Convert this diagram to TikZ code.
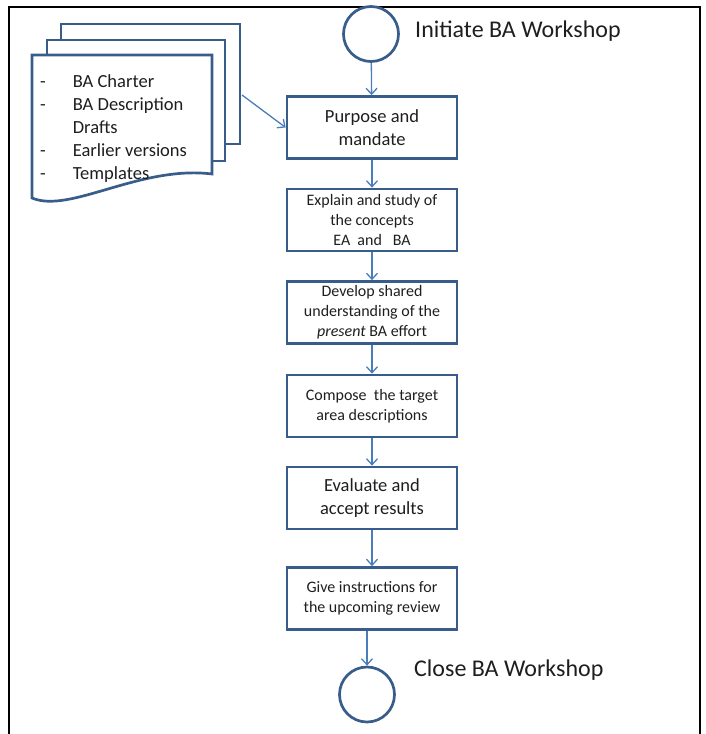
\documentclass[tikz,border=0pt]{standalone}
\usepackage{fontspec}
\setmainfont{Carlito}
\usepackage{xcolor}
\usetikzlibrary{arrows.meta}
\definecolor{shapeblue}{RGB}{56,93,138}
\definecolor{flowblue}{RGB}{74,126,187}
\definecolor{inktext}{RGB}{30,30,30}
\tikzset{x=1pt,y=-1pt,
 every node/.style={text=inktext},
 stepbox/.style={draw=shapeblue,line width=2.7pt,minimum width=170pt,
  minimum height=62pt,inner sep=0pt,align=center},
 bigtxt/.style={font=\fontsize{18.5}{23}\selectfont},
 smalltxt/.style={font=\fontsize{16}{20}\selectfont},
 terminal/.style={circle,draw=shapeblue,line width=2.7pt,minimum size=55pt,inner sep=0pt},
 sheet/.style={draw=shapeblue,line width=2.7pt,line join=miter},
 flow/.style={draw=flowblue,line width=1.3pt,-{Straight Barb[length=6pt,width=11pt]}},
 label/.style={font=\fontsize{24}{28}\selectfont,anchor=base west,inner sep=0pt},
 frame/.style={draw=black,line width=2.6pt},
 }

\begin{document}
\begin{tikzpicture}
        \useasboundingbox (0,0) rectangle (705,734);
        \draw[frame] (9,734) -- (9,7) -- (700,7) -- (700,734);
        % input documents
        \draw[sheet] (225,144) -- (240,144) -- (240,24) -- (61,24) -- (61,40);
        \draw[sheet] (212,161) -- (225,161) -- (225,40) -- (47,40) -- (47,55);
        \draw[sheet] (32,55) -- (212,55) -- (212,174)
            .. controls (140,165) and (70,214) .. (32,198) -- cycle;
        \node[anchor=base west,inner sep=0pt,font=\fontsize{18.5}{23}\selectfont] (doclist) at (40,87)
            {\begin{tabular}[t]{@{}l@{\hspace{27pt}}l@{}}
             - & BA Charter\\
             - & BA Description\\
               & Drafts\\
             - & Earlier versions\\
             - & Templates
             \end{tabular}};
        \coordinate (docout) at (242,95);
        % workflow
        \node[terminal] (start) at (371,34) {};
        \node[label] (initlbl) at (415,37.5) {Initiate BA Workshop};
        \node[stepbox,bigtxt] (p1) at (372,127.5) {Purpose and\\mandate};
        \node[stepbox,smalltxt] (p2) at (372,220) {Explain and study of\\the concepts\\EA\ \ and\ \ \ BA};
        \node[stepbox,smalltxt] (p3) at (372,312.5) {Develop shared\\understanding of the\\\textit{present} BA effort};
        \node[stepbox,smalltxt] (p4) at (372,406) {Compose\ \ the target\\area descriptions};
        \node[stepbox,bigtxt] (p5) at (372,498) {Evaluate and\\accept results};
        \node[stepbox,smalltxt] (p6) at (372,598.5) {Give instructions for\\the upcoming review};
        \node[terminal] (stop) at (367,694.5) {};
        \node[label] (closelbl) at (414,676) {Close BA Workshop};
        \draw[flow] (start) -- (p1);
        \draw[flow] (docout) -- (p1.west);
        \draw[flow] (p1) -- (p2);
        \draw[flow] (p2) -- (p3);
        \draw[flow] (p3) -- (p4);
        \draw[flow] (p4) -- (p5);
        \draw[flow] (p5) -- (p6);
        \draw[flow] (p6.south -| stop.north) -- (stop.north);
    \end{tikzpicture}
\end{document}
